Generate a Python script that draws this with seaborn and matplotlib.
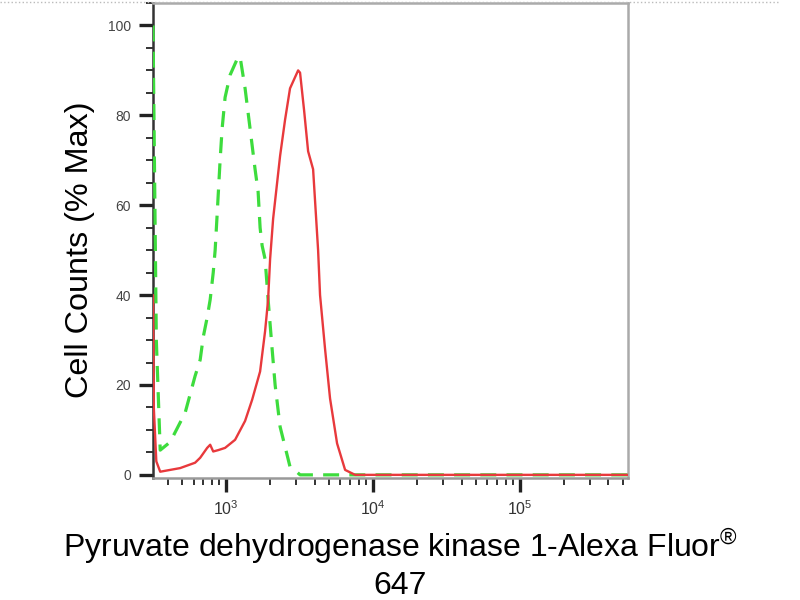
import matplotlib
matplotlib.use("Agg")
import matplotlib.pyplot as plt
import numpy as np
import pandas as pd
import seaborn as sns
from matplotlib.ticker import LogLocator, NullFormatter, MultipleLocator, FixedLocator
from matplotlib.lines import Line2D

# ---- data (fluorescence intensity vs % of max) ----
iso_x = [318, 335, 356, 416, 526, 615, 666, 699, 743, 779, 817, 842, 869, 910,
         939, 984, 1065, 1207, 1245, 1346, 1456, 1574, 1651, 1703, 1758, 1842,
         1931, 2056, 2155, 2330, 2722, 2943, 3185, 10000, 100000, 543000]
iso_pct = [100, 30, 5.5, 7.3, 13.8, 22, 25.6, 30.7, 35, 39, 45, 50, 58, 70,
           77, 84, 89, 93, 93, 86, 77, 68, 63, 55, 51, 48,
           39, 28, 20, 10.7, 1.8, 1, 0, 0, 0, 0]

pdk_x = [318, 322, 335, 356, 486, 615, 666, 743, 779, 817, 883, 984, 1151,
         1346, 1503, 1703, 1842, 1931, 1992, 2089, 2330, 2518, 2722, 3090,
         3185, 3396, 3614, 3908, 4226, 4357, 4713, 5096, 5689, 6452, 7551,
         10000, 100000, 543000]
pdk_pct = [40, 15, 3, 0.7, 1.5, 2.7, 3.8, 6, 6.7, 5.2, 5.5, 6, 7.8,
           12, 16.7, 23, 32, 39, 48, 57, 71, 79, 86, 90,
           89.5, 81, 72, 68, 50, 40, 28, 17, 7, 1.1, 0,
           0, 0, 0]

y_ticks = [0, 20, 40, 60, 80, 100]
x_major = [1e3, 1e4, 1e5]
x_tick_labels = [r"$10^{3}$", r"$10^{4}$", r"$10^{5}$"]
y_label = "Cell Counts (% Max)"
x_label_line1 = "Pyruvate dehydrogenase kinase 1-Alexa Fluor$^{®}$"
x_label_line2 = "647"

iso_df = pd.DataFrame({"x": iso_x, "pct": iso_pct})
pdk_df = pd.DataFrame({"x": pdk_x, "pct": pdk_pct})

sns.set_style("white")
plt.rcParams["font.family"] = ["Liberation Sans", "DejaVu Sans"]
plt.rcParams["mathtext.fontset"] = "custom"
plt.rcParams["mathtext.rm"] = "Liberation Sans"
plt.rcParams["mathtext.it"] = "Liberation Sans"

fig = plt.figure(figsize=(8, 6), dpi=100)
ax = fig.add_axes([153 / 800, 1 - 478 / 600, (628 - 153) / 800, (478 - 3) / 600])

sns.lineplot(data=iso_df, x="x", y="pct", ax=ax, color="#3ddc3d", linewidth=2.3,
             estimator=None, sort=False, zorder=3)
ax.lines[-1].set_dashes([5, 3.2])
sns.lineplot(data=pdk_df, x="x", y="pct", ax=ax, color="#e8393c", linewidth=1.7,
             estimator=None, sort=False, zorder=4)

ax.set_xscale("log")
ax.set_xlim(318, 543000)
ax.set_ylim(-0.7, 105)

ax.xaxis.set_major_locator(FixedLocator(x_major))
ax.set_xticklabels(x_tick_labels)
ax.xaxis.set_minor_locator(LogLocator(base=10, subs=np.arange(2, 10), numticks=20))
ax.xaxis.set_minor_formatter(NullFormatter())
ax.yaxis.set_major_locator(FixedLocator(y_ticks))
ax.yaxis.set_minor_locator(MultipleLocator(5))

ax.tick_params(axis="both", which="both", left=True, bottom=True, direction="out")
ax.tick_params(axis="both", which="major", length=10, width=2.4,
               color="#222222", labelsize=10, labelcolor="#444444", pad=6)
ax.tick_params(axis="both", which="minor", length=5, width=1.4,
               color="#333333")
ax.tick_params(axis="x", which="major", labelsize=11.5, pad=5, labelcolor="#333333")

for side in ["top", "right"]:
    ax.spines[side].set_color("#aaaaaa")
    ax.spines[side].set_linewidth(1.8)
ax.spines["left"].set_color("#333333")
ax.spines["left"].set_linewidth(1.8)
ax.spines["bottom"].set_color("#999999")
ax.spines["bottom"].set_linewidth(1.8)

ax.set_xlabel("")
ax.set_ylabel("")
fig.text(80 / 800, 1 - 250 / 600, y_label, rotation=90, ha="center", va="center",
         fontsize=23.3, color="black")
fig.text(400 / 800, 1 - 557 / 600, x_label_line1, ha="center", va="baseline",
         fontsize=23, color="black")
fig.text(400 / 800, 1 - 594 / 600, x_label_line2, ha="center", va="baseline",
         fontsize=23, color="black")

fig.add_artist(Line2D([0, 780 / 800], [0.997, 0.997], transform=fig.transFigure,
                      color="#bbbbbb", linewidth=1, linestyle=":"))

fig.savefig("out.png", dpi=100)
